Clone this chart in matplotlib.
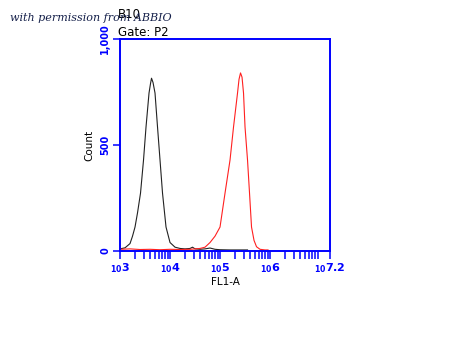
import numpy as np
import matplotlib
matplotlib.use('Agg')
import matplotlib.pyplot as plt

# log10(FL1-A) positions and counts
black_x = [3.00, 3.10, 3.20, 3.25, 3.30, 3.35, 3.41, 3.47, 3.52, 3.58, 3.61, 3.63, 3.66,
           3.70, 3.75, 3.80, 3.85, 3.92, 4.00, 4.10, 4.20, 4.30, 4.40, 4.45, 4.50,
           4.60, 4.70, 4.80, 4.90, 5.00, 5.20, 5.40, 5.55]
black_y = [10, 15, 35, 70, 113, 180, 273, 429, 585, 745, 790, 815, 795,
           745, 585, 429, 273, 113, 40, 18, 12, 10, 12, 18, 10,
           8, 10, 14, 8, 6, 5, 5, 5]

red_x = [3.00, 3.20, 3.40, 3.60, 3.80, 4.00, 4.20, 4.40, 4.60, 4.70, 4.80, 4.90,
         5.00, 5.10, 5.20, 5.27, 5.35, 5.38, 5.41, 5.44, 5.47, 5.50, 5.55, 5.59, 5.63,
         5.68, 5.73, 5.80, 5.90, 5.96]
red_y = [8, 10, 7, 8, 6, 8, 7, 8, 12, 18, 40, 70,
         113, 273, 429, 585, 745, 810, 840, 820, 745, 585, 429, 273, 113,
         50, 20, 8, 5, 5]

x_major = [3, 4, 5, 6, 7.2]
x_labels = ['3', '4', '5', '6', '7.2']
y_major = [0, 500, 1000]
y_labels = ['0', '500', '1,000']

blue = '#0000ff'
fig = plt.figure(figsize=(4.5, 3.38), dpi=100)
ax = fig.add_axes([0.2667, 0.2574, 0.4667, 0.6272])

ax.plot(black_x, black_y, color='#222222', lw=0.8)
ax.plot(red_x, red_y, color='#ff2020', lw=0.8)

ax.set_xlim(3, 7.2)
ax.set_ylim(0, 1000)
for s in ax.spines.values():
    s.set_color(blue)
    s.set_linewidth(1.4)

minor = [d + np.log10(k) for d in range(3, 7) for k in range(2, 10) if d + np.log10(k) < 7.2]
ax.set_xticks(x_major)
ax.set_xticks(minor, minor=True)
ax.set_xticklabels([r'$_{\mathbf{10}}\mathbf{%s}$' % t for t in x_labels])
ax.tick_params(axis='x', which='both', direction='out', color=blue, width=1.1,
               length=6, labelcolor=blue, labelsize=8, pad=1)
ax.set_yticks(y_major)
ax.set_yticklabels(y_labels, rotation=90, va='center', fontweight='bold')
ax.tick_params(axis='y', direction='out', color=blue, width=1.1, length=5,
               labelcolor=blue, labelsize=7, pad=2)

ax.set_xlabel('FL1-A', fontsize=7.5, labelpad=2)
ax.set_ylabel('Count', fontsize=7.5, labelpad=4)

fig.text(118 / 450, 1 - 14 / 338, 'B10', fontsize=8.5, va='center', ha='left')
fig.text(118 / 450, 1 - 32 / 338, 'Gate: P2', fontsize=8.5, va='center', ha='left')
fig.text(10 / 450, 1 - 18 / 338, 'with permission from ABBIO', fontsize=8,
         family='serif', style='italic', color='#15204a', va='center', ha='left')

fig.savefig('out.png', dpi=100)
